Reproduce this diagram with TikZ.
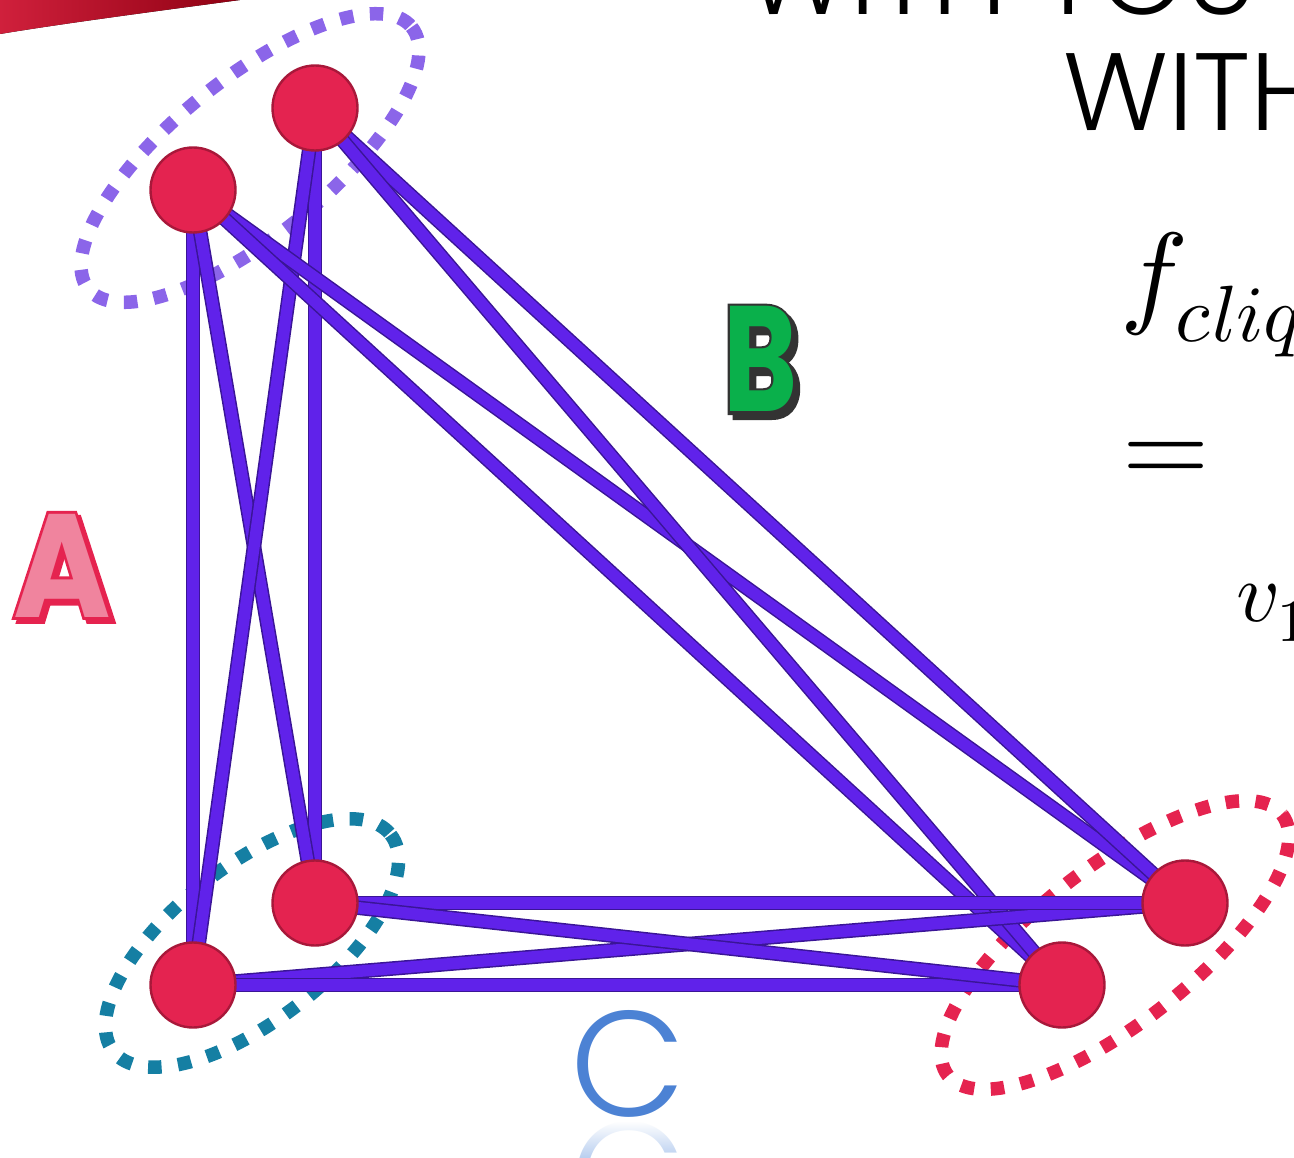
\documentclass[tikz,border=0pt]{standalone}
\usepackage{fontspec}
\usepackage{unicode-math}
\newfontfamily\titlefont{Poppins Light}
\newfontfamily\lblfont{Poppins Bold}
\newfontfamily\lbloutline{Poppins Bold}[FakeBold=4]
\usetikzlibrary{fadings}
\definecolor{nodefill}{HTML}{E42350}
\definecolor{nodeborder}{HTML}{A8183A}
\definecolor{edgecol}{HTML}{6022EA}
\definecolor{edgedark}{HTML}{3A1596}
\definecolor{grpA}{HTML}{8B65E9}
\definecolor{grpC}{HTML}{157FA3}
\definecolor{grpB}{HTML}{E5234F}
\definecolor{labA}{HTML}{E5234F}
\definecolor{labApale}{HTML}{F0849E}
\definecolor{labB}{HTML}{0AB04B}
\definecolor{labBdark}{HTML}{333333}
\definecolor{labC}{HTML}{4C82D4}
\definecolor{labCref}{HTML}{B9CFF0}
\definecolor{swoosh1}{HTML}{D0203C}
\definecolor{swoosh2}{HTML}{8E0012}
\pgfdeclarelayer{groups}
\pgfdeclarelayer{edges}
\pgfsetlayers{groups,edges,main}
\tikzset{
  vert/.style={circle, minimum size=85pt, inner sep=0pt, fill=nodefill, draw=nodeborder, line width=2.4pt},
  link/.style={line width=1.5pt, draw=edgedark, double=edgecol, double distance=11.5pt},
  grouping/.style={line width=13.5pt, dash pattern=on 13.5pt off 16.5pt},
  txt/.style={inner sep=0pt, outer sep=0pt},
}
\begin{document}
\begin{tikzpicture}[x=1pt,y=-1pt]
\useasboundingbox (0,0) rectangle (1294,1158);
\clip (0,0) rectangle (1294,1158);

% red brush stroke at the top left
\fill[left color=swoosh1, right color=swoosh2] (0,0) -- (240,0) .. controls (150,12) and (60,24) .. (0,34) -- cycle;

% vertices
\node[vert] (a1) at (193,190) {};
\node[vert] (a2) at (315,108) {};
\node[vert] (c1) at (193,985) {};
\node[vert] (c2) at (315,903) {};
\node[vert] (b1) at (1185,903) {};
\node[vert] (b2) at (1062,985) {};

% dotted groups
\begin{pgfonlayer}{groups}
\draw[grouping, grpA, rotate around={39:(250,158)}] (250,158) ellipse (208 and 78);
\draw[grouping, grpC, rotate around={38:(252,943)}] (252,943) ellipse (176 and 77);
\draw[grouping, grpB, rotate around={38:(1115,945)}] (1115,945) ellipse (212 and 78);
\end{pgfonlayer}

% edges
\begin{pgfonlayer}{edges}
\foreach \u/\v in {a1/c1, a2/c2, a1/c2, a2/c1, a1/b1, a1/b2, a2/b1, a2/b2, c1/b1, c1/b2, c2/b1, c2/b2}
  \draw[link] (\u.center) -- (\v.center);
\end{pgfonlayer}

% label A
\node[txt, anchor=base west, text=labA, xscale=0.9, transform shape, font=\lbloutline\fontsize{147}{147}\selectfont] (Ash) at (17,621) {A};
\node[txt, anchor=base west, text=labA, xscale=0.9, transform shape, font=\lbloutline\fontsize{147}{147}\selectfont] (Aout) at (13,617) {A};
\node[txt, anchor=base west, text=labApale, xscale=0.9, transform shape, font=\lblfont\fontsize{147}{147}\selectfont] (A) at (13,617) {A};

% label B
\node[txt, anchor=base west, text=labBdark, xscale=0.75, transform shape, font=\lbloutline\fontsize{150}{150}\selectfont] (Bsh) at (728,417) {B};
\node[txt, anchor=base west, text=labBdark, xscale=0.75, transform shape, font=\lbloutline\fontsize{150}{150}\selectfont] (Bout) at (723,412) {B};
\node[txt, anchor=base west, text=labB, xscale=0.75, transform shape, font=\lblfont\fontsize{150}{150}\selectfont] (B) at (723,412) {B};

% label C and its reflection
\node[txt, anchor=base west, text=labC, font=\titlefont\fontsize{150}{150}\selectfont] (C) at (570,1116) {C};
\begin{scope}
\clip (540,1121) rectangle (720,1158);
\begin{scope}[shift={(0,2238)}, yscale=-1, transform shape]
\node[txt, anchor=base west, text=labCref, font=\titlefont\fontsize{150}{150}\selectfont] (Cref) at (570,1116) {C};
\end{scope}
\fill[white, path fading=south] (540,1121) rectangle (720,1158);
\end{scope}

% title text at the top right
\node[txt, anchor=base west, font=\titlefont\fontsize{110}{110}\selectfont] (t1) at (745,15) {WITH YOU S};
\node[txt, anchor=base west, font=\titlefont\fontsize{110}{110}\selectfont] (t2) at (1063,131) {WITH};

% formula pieces
\node[txt, anchor=base west, font=\fontsize{114}{114}\selectfont] (f) at (1120,313) {$f_{clique}$};
\node[txt, font=\fontsize{112}{112}\selectfont] (eq) at (1166,463) {$\symbf{=}$};
\node[txt, anchor=base west, font=\fontsize{85}{85}\selectfont] (v) at (1236,621) {$v_{1}$};
\end{tikzpicture}
\end{document}
